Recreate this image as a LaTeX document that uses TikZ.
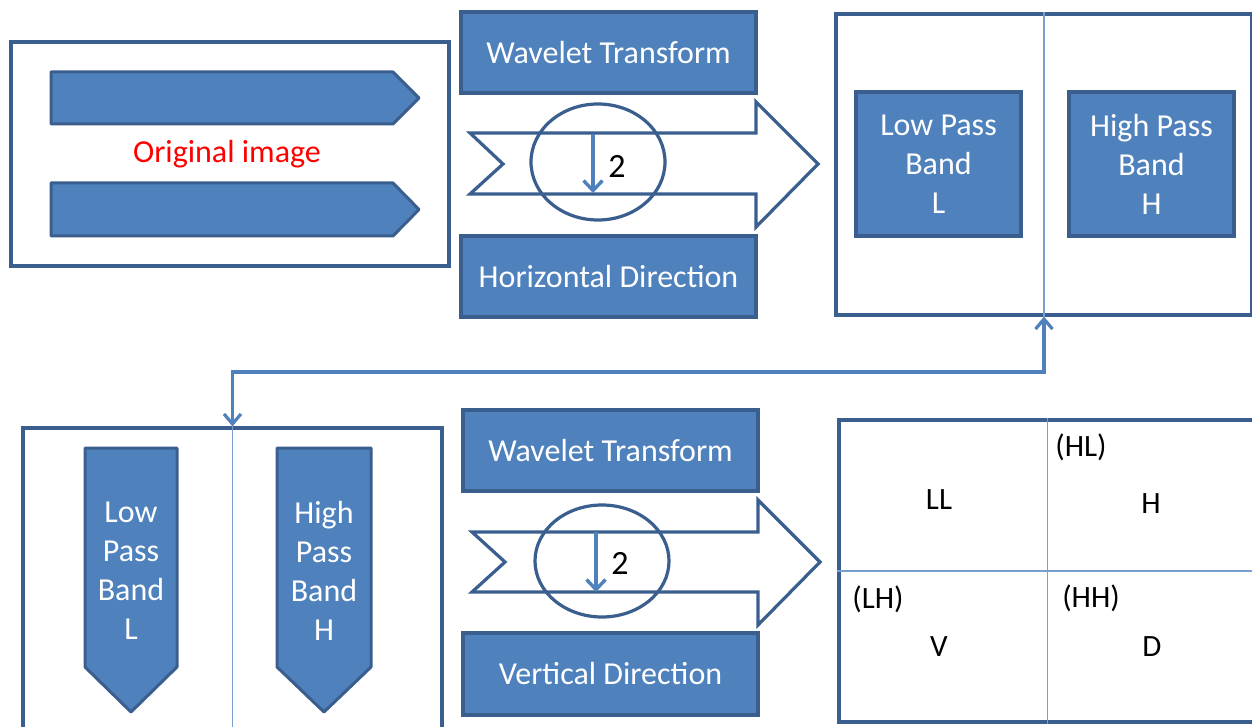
\documentclass[tikz,border=0pt]{standalone}
\usepackage{fontspec}
\setmainfont{Carlito}
\usetikzlibrary{arrows.meta,shapes.geometric}
\definecolor{accent}{HTML}{4F81BD}
\definecolor{edge}{HTML}{3A5F8E}
\definecolor{divider}{HTML}{7A9FCF}

\begin{document}
\begin{tikzpicture}[x=1pt,y=-1pt,
  frame/.style={draw=edge, line width=3.2pt, fill=white, inner sep=0pt},
  bandbox/.style={draw=edge, line width=3.2pt, fill=accent, text=white, align=center,
    font=\fontsize{32}{39}\selectfont, inner sep=0pt},
  whitetext/.style={text=white, align=center, font=\fontsize{32}{39}\selectfont},
  gridtext/.style={font=\fontsize{31}{36}\selectfont},
  split/.style={draw=divider, line width=1.6pt},
  pent/.style={draw=edge, line width=3pt, fill=accent, line join=round},
  flow/.style={draw=edge, line width=3.2pt, fill=white, line join=miter},
  ring/.style={ellipse, draw=edge, line width=3.2pt, inner sep=0pt},
  tick/.style={draw=accent, line width=3.4pt, -{Straight Barb[length=10pt,width=19pt]}},
  link/.style={draw=accent, line width=3.2pt,
    {Straight Barb[length=10pt,width=17pt]}-{Straight Barb[length=10pt,width=17pt]}},
]
\clip (0,0) rectangle (1252,727);
\fill[white] (0,0) rectangle (1252,727);

% ---------- original image ----------
\node[frame, minimum width=438, minimum height=224] (orig) at (230,154) {};
\draw[pent] (51,72) -- (393,72) -- (419,98) -- (393,124) -- (51,124) -- cycle;
\draw[pent] (51,183) -- (393,183) -- (419,209.5) -- (393,236) -- (51,236) -- cycle;
\node[text=red, font=\fontsize{32}{36}\selectfont] (origlabel) at (227,154) {Original image};

% ---------- horizontal wavelet step ----------
\node[bandbox, minimum width=295, minimum height=81] (wt1) at (608.5,52.5) {Wavelet Transform};
\node[bandbox, minimum width=295, minimum height=81] (hd) at (608.5,276.5) {Horizontal Direction};
\draw[flow] (470,133) -- (756,133) -- (756,102) -- (818,164) -- (756,227) -- (756,194)
  -- (470,194) -- (503,164) -- cycle;
\node[ring, minimum width=134, minimum height=116] (ds1) at (598,162) {};
\coordinate (t1a) at (593,134);
\coordinate (t1b) at (593,193);
\draw[tick] (t1a) -- (t1b);
\node[font=\fontsize{34}{36}\selectfont] (two1) at (617,166) {2};

% ---------- L / H result ----------
\node[frame, minimum width=416, minimum height=301] (trbox) at (1044,164.5) {};
\draw[split] (trbox.north) -- (trbox.south);
\node[bandbox, minimum width=165, minimum height=144] (lowh) at (938.5,164) {Low Pass\\Band\\L};
\node[bandbox, minimum width=165, minimum height=144] (highh) at (1151.5,164) {High Pass\\Band\\H};

% ---------- L / H as columns ----------
\node[frame, minimum width=419, minimum height=317] (blbox) at (232.5,586.5) {};
\draw[split] (blbox.north) -- (blbox.south);
\draw[pent] (85,448) -- (177,448) -- (177,667) -- (131,712) -- (85,667) -- cycle;
\draw[pent] (277,448) -- (371,448) -- (371,667) -- (324,712) -- (277,667) -- cycle;
\node[whitetext] (lowv) at (131,570.5) {Low\\Pass\\Band\\L};
\node[whitetext] (highv) at (324,570.5) {High\\Pass\\Band\\H};

% connector between the two stages
\coordinate (bend) at (640,372);
\draw[link] (trbox.south) |- (bend) -| (blbox.north);

% ---------- vertical wavelet step ----------
\node[bandbox, minimum width=295, minimum height=81] (wt2) at (610.5,450.5) {Wavelet Transform};
\node[bandbox, minimum width=295, minimum height=82] (vd) at (610.5,674) {Vertical Direction};
\draw[flow] (472,532) -- (758,532) -- (758,500) -- (820,562) -- (758,625) -- (758,592)
  -- (472,592) -- (505,562) -- cycle;
\node[ring, minimum width=134, minimum height=112] (ds2) at (602,561) {};
\coordinate (t2a) at (596,532);
\coordinate (t2b) at (596,592);
\draw[tick] (t2a) -- (t2b);
\node[font=\fontsize{34}{36}\selectfont] (two2) at (620,563) {2};

% ---------- four sub-bands ----------
\node[frame, minimum width=417, minimum height=302] (brbox) at (1047.5,571) {};
\draw[split] (brbox.north) -- (brbox.south);
\draw[split] (brbox.west) -- (brbox.east);
\node[gridtext] (ll) at (939,500) {LL};
\node[gridtext] (hl) at (1081,447) {(HL)};
\node[gridtext] (hband) at (1151,504) {H};
\node[gridtext] (lh) at (878,599) {(LH)};
\node[gridtext] (vband) at (939,647) {V};
\node[gridtext] (hh) at (1091,598) {(HH)};
\node[gridtext] (dband) at (1152,647) {D};
\end{tikzpicture}
\end{document}
